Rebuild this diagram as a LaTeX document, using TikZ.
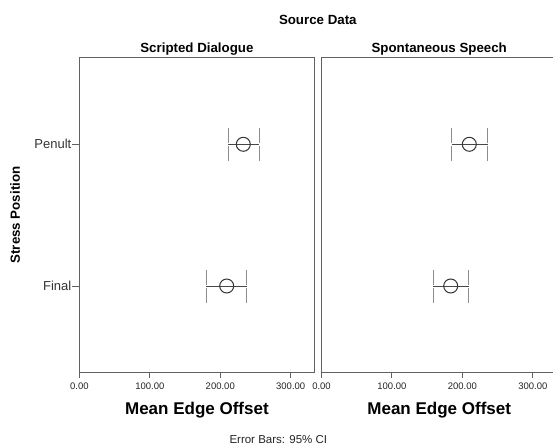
\documentclass[tikz,border=0pt]{standalone}
\usepackage{fontspec}
\setmainfont{Liberation Sans}
\newcommand\ebarmark[5]{% name, lo, mid, hi, y
  \coordinate (#1-lo) at (#2,#5);
  \coordinate (#1-hi) at (#4,#5);
  \coordinate (#1-m) at (#3,#5);
  \draw[whisk] (#1-lo) -- (#1-hi);
  \draw[capline] ([yshift=-16.5]#1-lo) -- ([yshift=-1.5]#1-lo);
  \draw[capline] ([yshift=1.5]#1-lo) -- ([yshift=16.5]#1-lo);
  \draw[capline] ([yshift=-16.5]#1-hi) -- ([yshift=-1.5]#1-hi);
  \draw[capline] ([yshift=1.5]#1-hi) -- ([yshift=16.5]#1-hi);
  \draw[meanmark] (#1-m) circle[radius=7];
}
\begin{document}
\begin{tikzpicture}[x=1pt,y=-1pt,
  axis/.style={draw=black!62, line width=1.3pt},
  tickmark/.style={draw=black!62, line width=1pt},
  capline/.style={draw=black!45, line width=1pt},
  whisk/.style={draw=black!72, line width=1pt},
  meanmark/.style={draw=black!80, line width=1pt},
  ticklab/.style={font=\fontsize{9.5}{10}\selectfont, inner sep=0pt, text=black!85},
  catlab/.style={font=\fontsize{13}{14}\selectfont, inner sep=0pt, anchor=east, text=black!80},
  ttl/.style={font=\bfseries\fontsize{13.3}{14}\selectfont, inner sep=0pt},
  xlab/.style={font=\bfseries\fontsize{17}{18}\selectfont, inner sep=0pt},
  note/.style={font=\fontsize{11.5}{12}\selectfont, inner sep=0pt, text=black!85}]
\useasboundingbox (0,0) rectangle (553,446);
\fill[white] (0,0) rectangle (553,446);

% panel frames
\coordinate (p1tl) at (79.4,57.3);
\coordinate (p1br) at (314.3,372.7);
\draw[axis] (p1tl) rectangle (p1br);
\coordinate (p2tr) at (553,57.3);
\coordinate (p2tl) at (321.5,57.3);
\coordinate (p2bl) at (321.5,372.7);
\coordinate (p2br) at (553,372.7);
\draw[axis] (p2tr) -- (p2tl) -- (p2bl) -- (p2br);

% x ticks and labels
\foreach \v/\lab [count=\i] in {0/0.00,100/100.00,200/200.00,300/300.00}{
  \coordinate (ta\i) at ({79.4+0.7043*\v},372.7);
  \draw[tickmark] (ta\i) -- ++(0,5.5);
  \node[ticklab] (la\i) at ({79.4+0.7043*\v},386.7) {\lab};
  \coordinate (tb\i) at ({321.5+0.7043*\v},372.7);
  \draw[tickmark] (tb\i) -- ++(0,5.5);
  \node[ticklab] (lb\i) at ({321.5+0.7043*\v},386.7) {\lab};
}

% y ticks and category labels
\coordinate (ypen) at (79.4,144.3);
\coordinate (yfin) at (79.4,286);
\draw[tickmark] (ypen) -- ++(-7.5,0);
\draw[tickmark] (yfin) -- ++(-7.5,0);
\node[catlab] (penult) at (71.5,144.3) {Penult};
\node[catlab] (final) at (71.5,286) {Final};

% error bars
\ebarmark{s1p}{228.3}{243.3}{259.0}{144.3}
\ebarmark{s1f}{206.0}{226.7}{246.7}{286}
\ebarmark{s2p}{451.7}{469.3}{487.5}{144.3}
\ebarmark{s2f}{433.3}{450.7}{468.7}{286}

% titles and labels
\node[ttl] (src) at (317.8,19.5) {Source Data};
\node[ttl] (sd) at (196.9,49.4) {Scripted Dialogue};
\node[ttl] (ss) at (439.2,49.4) {Spontaneous Speech};
\node[xlab] (x1) at (196.9,410) {Mean Edge Offset};
\node[xlab] (x2) at (439.2,410) {Mean Edge Offset};
\node[note] (eb) at (278.3,440) {Error Bars: 95\% CI};
\node[ttl, rotate=90] (yl) at (15,215) {Stress Position};
\end{tikzpicture}
\end{document}
